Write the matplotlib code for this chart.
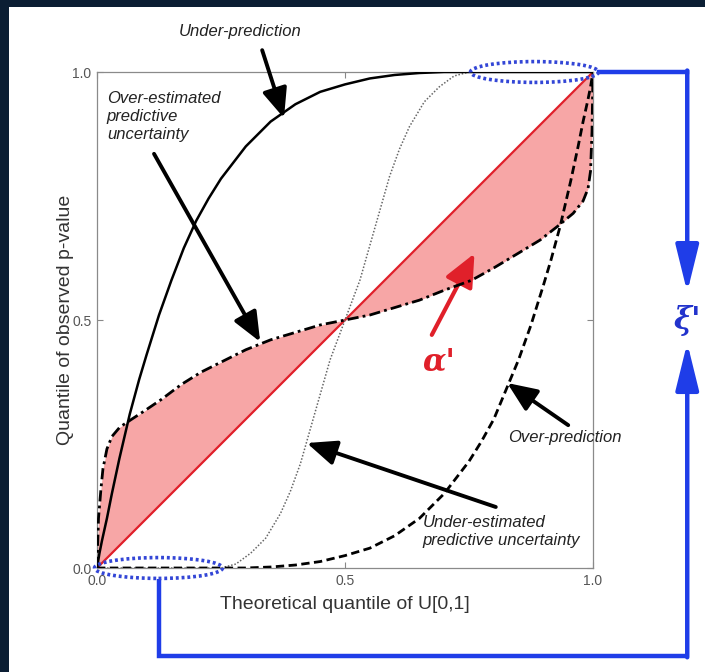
import numpy as np
import matplotlib
matplotlib.use("Agg")
import matplotlib.pyplot as plt
from matplotlib.patches import Ellipse, Rectangle

plt.rcParams['font.family'] = ['Liberation Sans', 'DejaVu Sans']

# PIT / predictive QQ-plot curves (theoretical quantile vs observed p-value quantile)
under_pred_x = [0, 0.005, 0.01, 0.02, 0.03, 0.045, 0.066, 0.085, 0.1, 0.125, 0.15, 0.175,
                0.2, 0.225, 0.25, 0.3, 0.35, 0.4, 0.45, 0.5, 0.55, 0.6, 0.65, 0.7, 1.0]
under_pred_y = [0, 0.03, 0.055, 0.10, 0.15, 0.22, 0.31, 0.38, 0.43, 0.51, 0.58, 0.645,
                0.70, 0.745, 0.785, 0.85, 0.90, 0.935, 0.96, 0.975, 0.987, 0.994, 0.998, 1.0, 1.0]

over_pred_x = [0, 0.3, 0.35, 0.4, 0.45, 0.5, 0.55, 0.6, 0.65, 0.7, 0.75, 0.775, 0.8, 0.825,
               0.85, 0.875, 0.9, 0.915, 0.934, 0.955, 0.97, 0.98, 0.99, 0.995, 1.0]
over_pred_y = [0, 0, 0.002, 0.006, 0.013, 0.025, 0.04, 0.065, 0.1, 0.15, 0.215, 0.255, 0.30, 0.36,
               0.42, 0.49, 0.57, 0.62, 0.69, 0.78, 0.85, 0.90, 0.945, 0.97, 1.0]

under_unc_x = [0, 0.25, 0.28, 0.31, 0.34, 0.37, 0.39, 0.41, 0.43, 0.45, 0.47, 0.5, 0.53, 0.55,
               0.57, 0.59, 0.61, 0.63, 0.66, 0.69, 0.72, 0.75, 1.0]
under_unc_y = [0, 0, 0.008, 0.03, 0.06, 0.11, 0.155, 0.21, 0.28, 0.35, 0.42, 0.5, 0.58, 0.65,
               0.72, 0.79, 0.845, 0.89, 0.94, 0.97, 0.992, 1.0, 1.0]

over_unc_x = [0, 0.003, 0.008, 0.012, 0.02, 0.03, 0.046, 0.07, 0.093, 0.13, 0.17, 0.21, 0.25,
              0.3, 0.35, 0.4, 0.45, 0.5, 0.55, 0.6, 0.65, 0.7, 0.755, 0.8, 0.85, 0.893, 0.93,
              0.96, 0.98, 0.99, 0.995, 0.998, 1.0]
over_unc_y = [0, 0.1, 0.16, 0.2, 0.24, 0.265, 0.284, 0.30, 0.315, 0.34, 0.37, 0.395, 0.415,
              0.44, 0.46, 0.475, 0.49, 0.5, 0.51, 0.525, 0.54, 0.56, 0.58, 0.605, 0.635, 0.661, 0.69,
              0.715, 0.74, 0.765, 0.8, 0.88, 1.0]

ticks = [0.0, 0.5, 1.0]
tick_labels = ['0.0', '0.5', '1.0']

navy = '#0b1e33'
blue = '#1f3de8'
red = '#e0202a'

fig = plt.figure(figsize=(7.05, 6.72), dpi=100, facecolor='white')
# dark strips along the top and left edges
fig.patches.append(Rectangle((0, 1 - 7 / 672), 1, 7 / 672, transform=fig.transFigure,
                             facecolor=navy, edgecolor='none'))
fig.patches.append(Rectangle((0, 0), 9 / 705, 1, transform=fig.transFigure,
                             facecolor=navy, edgecolor='none'))
ax = fig.add_axes([97 / 705, 1 - 568 / 672, 496 / 705, 496 / 672])
ax.set_xlim(0, 1)
ax.set_ylim(0, 1)

ox = np.array(over_unc_x)
oy = np.array(over_unc_y)
ax.fill_between(ox, ox, oy, color='#f7a6a6', lw=0, zorder=1)
ax.plot([0, 1], [0, 1], color=red, lw=1.6, zorder=2)

ax.plot(under_unc_x, under_unc_y, color='#666666', lw=1.1, ls=(0, (1, 1.2)), zorder=3)
ax.plot(under_pred_x, under_pred_y, color='black', lw=1.8, zorder=4)
ax.plot(over_pred_x, over_pred_y, color='black', lw=2.0, ls=(0, (3, 1.6)), zorder=4)
ax.plot(over_unc_x, over_unc_y, color='black', lw=2.0, ls=(0, (4, 1.5, 1, 1.5)), zorder=4)

ax.set_xticks(ticks)
ax.set_xticklabels(tick_labels)
ax.set_yticks(ticks)
ax.set_yticklabels(tick_labels)
ax.tick_params(direction='in', length=4, width=0.8, color='#888888', labelcolor='#555555',
               labelsize=10, top=True, right=True, pad=4)
for s in ax.spines.values():
    s.set_color('#8a8a8a')
    s.set_linewidth(0.9)
ax.set_xlabel('Theoretical quantile of U[0,1]', fontsize=14, color='#333333', labelpad=6)
ax.set_ylabel('Quantile of observed p-value', fontsize=14, color='#333333', labelpad=-1)

# annotations
txt = dict(fontsize=12, style='italic', color='#222222')
arr = dict(arrowstyle='-|>,head_length=0.9,head_width=0.38', lw=2.8, color='black',
           mutation_scale=20, shrinkA=0, shrinkB=0)
ax.text(0.288, 1.081, 'Under-prediction', ha='center', va='center', **txt)
ax.annotate('', xy=(0.377, 0.907), xytext=(0.333, 1.044), arrowprops=arr, annotation_clip=False)

ax.text(0.02, 0.962, 'Over-estimated\npredictive\nuncertainty', ha='left', va='top',
        linespacing=1.25, **txt)
ax.annotate('', xy=(0.329, 0.456), xytext=(0.115, 0.835), arrowprops=arr)

ax.text(0.829, 0.264, 'Over-prediction', ha='left', va='center', **txt)
ax.annotate('', xy=(0.827, 0.373), xytext=(0.95, 0.288), arrowprops=arr)

ax.text(0.657, 0.107, 'Under-estimated\npredictive uncertainty', ha='left', va='top',
        linespacing=1.25, **txt)
ax.annotate('', xy=(0.423, 0.252), xytext=(0.804, 0.123), arrowprops=arr)

# alpha' arrow inside the shaded area
ax.annotate('', xy=(0.761, 0.634), xytext=(0.675, 0.47),
            arrowprops=dict(arrowstyle='-|>,head_length=1.0,head_width=0.45', lw=3,
                            color=red, mutation_scale=20, shrinkA=0, shrinkB=0))
ax.text(0.69, 0.415, "α'", color=red, fontsize=22, family='DejaVu Serif',
        style='italic', weight='bold', ha='center', va='center')

# dotted ellipses marking the flat parts at 0 and 1
for cx, cy in [(0.882, 1.0), (0.124, 0.0)]:
    ax.add_patch(Ellipse((cx, cy), 0.258, 0.042, fill=False, edgecolor='#3346d6',
                         lw=2.6, ls=(0, (0.8, 0.8)), clip_on=False, zorder=6))

# xi' bracket linking the two ellipses
bx = 1.19
by = -0.177
ax.plot([1.012, bx], [1.0, 1.0], color=blue, lw=3.2, clip_on=False, solid_capstyle='projecting')
ax.plot([bx, 0.125, 0.125], [by, by, -0.022], color=blue, lw=3.2, clip_on=False,
        solid_joinstyle='miter', solid_capstyle='butt')
barr = dict(arrowstyle='-|>,head_length=1.3,head_width=0.32', lw=3.2, color=blue,
            mutation_scale=22, shrinkA=0, shrinkB=0)
ax.annotate('', xy=(bx, 0.556), xytext=(bx, 1.003), arrowprops=barr, annotation_clip=False)
ax.annotate('', xy=(bx, 0.454), xytext=(bx, by - 0.003), arrowprops=barr, annotation_clip=False)
ax.text(bx, 0.5, "ξ'", color='#2233cc', fontsize=22, family='DejaVu Serif',
        style='italic', weight='bold', ha='center', va='center')

fig.savefig('out.png', dpi=100)
